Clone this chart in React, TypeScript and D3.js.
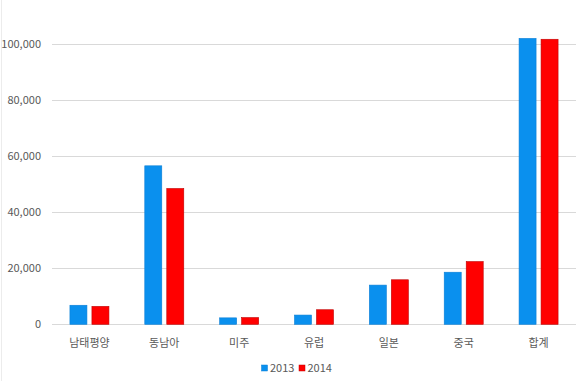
import React from "react";
import * as d3 from "d3";

const categories = ["남태평양", "동남아", "미주", "유럽", "일본", "중국", "합계"];
const seriesNames = ["2013", "2014"];
const values2013 = [6800, 56600, 2300, 3300, 14000, 18600, 102100];
const values2014 = [6400, 48500, 2400, 5200, 15900, 22400, 101800];
const yTicks = [0, 20000, 40000, 60000, 80000, 100000];

const W = 580;
const H = 381;
const colors = ["#0a90ee", "#ff0000"];
const strokes = ["#0a7fd6", "#c00000"];

export default function App() {
  const left = 52;
  const right = 576;
  const y0 = 324.3;
  const y = d3.scaleLinear().domain([0, 100000]).range([y0, y0 - 280]);
  const x0 = d3.scaleBand<string>().domain(categories).range([left, right]).padding(0);
  const x1 = d3
    .scaleBand<string>()
    .domain(seriesNames)
    .range([0, x0.bandwidth()])
    .paddingInner(0.227)
    .paddingOuter(0.815);
  const data = [values2013, values2014];
  const fmt = d3.format(",");
  const font = "'Noto Sans CJK KR', 'Noto Sans', sans-serif";
  const txt = "#595959";

  return (
    <svg width={W} height={H} style={{ position: "absolute", left: 0, top: 0, background: "#fff" }}>
      <rect x={0} y={0} width={W} height={H} fill="#fff" />
      <line x1={1.5} x2={1.5} y1={0} y2={H} stroke="#ececec" />
      {yTicks.map((t) => (
        <g key={t}>
          <line x1={left} x2={right} y1={Math.round(y(t)) + 0.5} y2={Math.round(y(t)) + 0.5} stroke="#d9d9d9" strokeWidth={1} />
          <text x={41} y={y(t)} dy="0.35em" textAnchor="end" fontSize={11} fill={txt} fontFamily={font}>
            {fmt(t)}
          </text>
        </g>
      ))}
      {categories.map((c, i) => (
        <g key={c}>
          {seriesNames.map((s, j) => {
            const v = data[j][i];
            return (
              <rect
                key={s}
                x={(x0(c) as number) + (x1(s) as number)}
                y={y(v)}
                width={x1.bandwidth()}
                height={y0 - y(v)}
                fill={colors[j]}
                stroke={strokes[j]}
                strokeWidth={0.6}
              />
            );
          })}
          <text
            x={(x0(c) as number) + x0.bandwidth() / 2}
            y={347}
            textAnchor="middle"
            fontSize={11}
            fill={txt}
            fontFamily={font}
          >
            {c}
          </text>
        </g>
      ))}
      {seriesNames.map((s, j) => {
        const lx = j === 0 ? 261.5 : 299;
        return (
          <g key={s}>
            <rect x={lx} y={365} width={6} height={6} fill={colors[j]} stroke={strokes[j]} strokeWidth={0.5} />
            <text x={lx + 8.5} y={371.5} fontSize={11} fill={txt} fontFamily={font}>
              {s}
            </text>
          </g>
        );
      })}
    </svg>
  );
}
